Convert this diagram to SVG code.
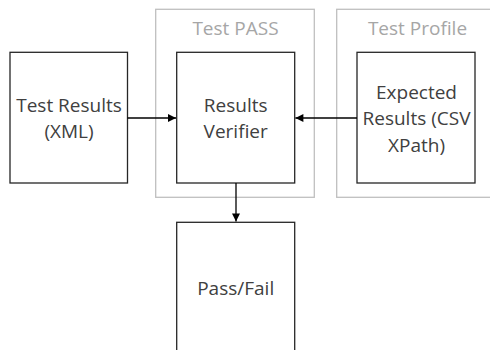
<svg xmlns="http://www.w3.org/2000/svg" width="490" height="350" viewBox="0 0 490 350">
  <style>
    .frame { fill: none; stroke: #bfbfbf; stroke-width: 1.3; }
    .frame-label { font-family: "Open Sans", "Liberation Sans", sans-serif; font-size: 19px; fill: #a6a6a6; text-anchor: middle; }
    .box { fill: #ffffff; stroke: #262626; stroke-width: 1.3; }
    .label { font-family: "Open Sans", "Liberation Sans", sans-serif; font-size: 19px; fill: #404040; text-anchor: middle; }
    .link { fill: none; stroke: #000000; stroke-width: 1.3; }
  </style>
  <defs>
    <marker id="arrow" viewBox="0 0 10 10" refX="10" refY="5" markerWidth="9" markerHeight="8" markerUnits="userSpaceOnUse" orient="auto">
      <path d="M0,0 L10,5 L0,10 Z" fill="#000000"/>
    </marker>
  </defs>

  <rect width="490" height="350" fill="#ffffff"/>

  <!-- grouping frames -->
  <g id="test-pass">
    <rect class="frame" x="155.7" y="9.3" width="158.6" height="188"/>
    <text class="frame-label" x="235.5" y="34.5">Test PASS</text>
  </g>
  <g id="test-profile">
    <rect class="frame" x="336.7" y="9.3" width="162" height="188"/>
    <text class="frame-label" x="417.5" y="34.5">Test Profile</text>
  </g>

  <!-- nodes -->
  <g id="test-results">
    <rect class="box" x="10" y="52.3" width="117.5" height="130.7"/>
    <text class="label" x="69" y="111.5">Test Results</text>
    <text class="label" x="69" y="137.5">(XML)</text>
  </g>
  <g id="results-verifier">
    <rect class="box" x="176.7" y="52.3" width="118" height="130.7"/>
    <text class="label" x="235.7" y="111.5">Results</text>
    <text class="label" x="235.7" y="137.5">Verifier</text>
  </g>
  <g id="expected-results">
    <rect class="box" x="357" y="52.3" width="118" height="130.7"/>
    <text class="label" x="416.5" y="98.5">Expected</text>
    <text class="label" x="416.5" y="125">Results (CSV</text>
    <text class="label" x="416.5" y="151.5">XPath)</text>
  </g>
  <g id="pass-fail">
    <rect class="box" x="176.7" y="222.3" width="118" height="135"/>
    <text class="label" x="235.7" y="295">Pass/Fail</text>
  </g>

  <!-- connectors -->
  <g id="connectors">
    <path class="link" d="M127.5,118 H176" marker-end="url(#arrow)"/>
    <path class="link" d="M357,118 H295.4" marker-end="url(#arrow)"/>
    <path class="link" d="M236,183 V221.6" marker-end="url(#arrow)"/>
  </g>
</svg>
